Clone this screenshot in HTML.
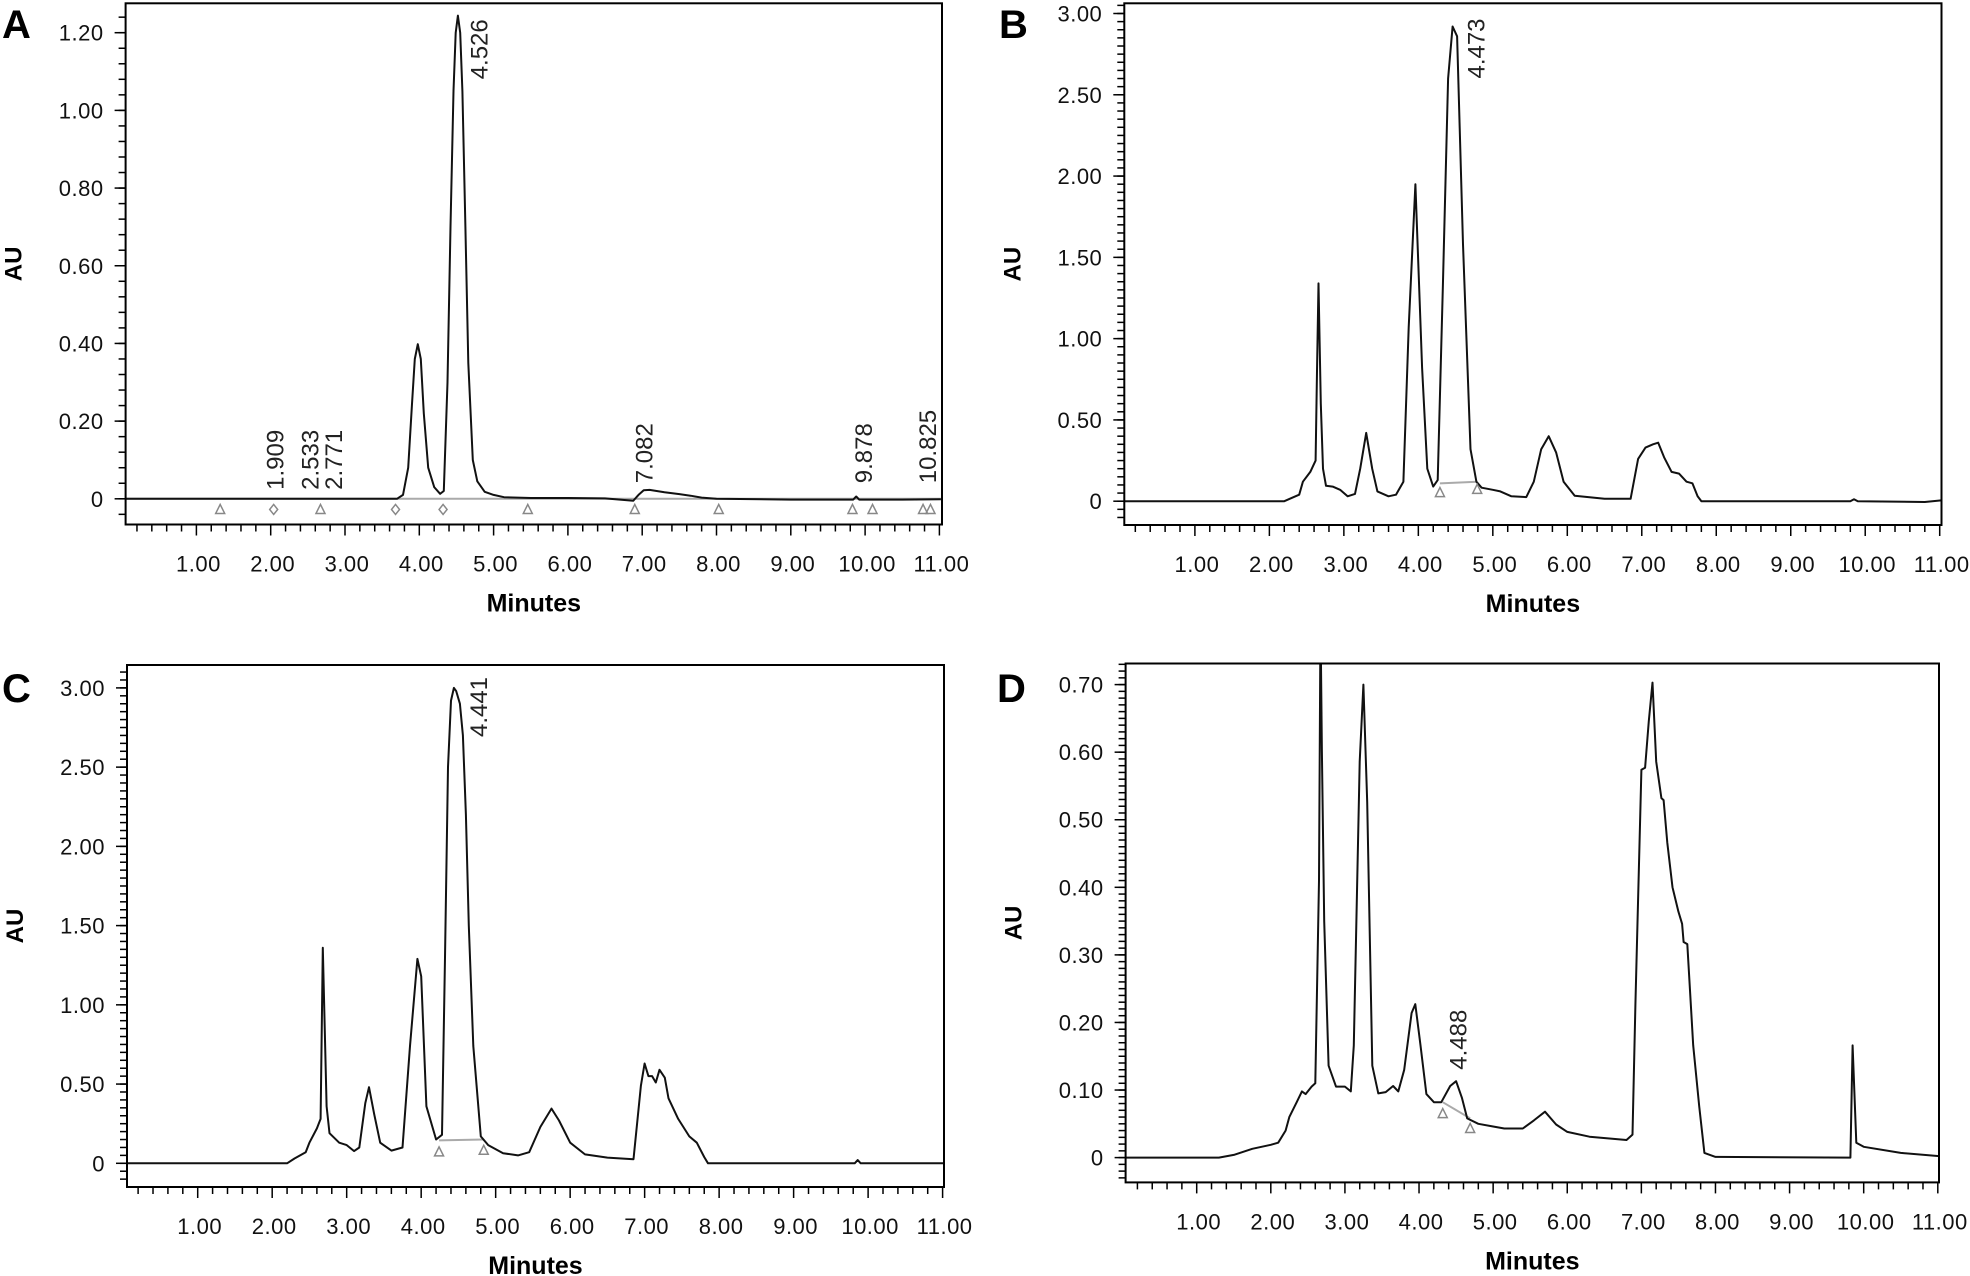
<!DOCTYPE html>
<html><head><meta charset="utf-8"><style>
html,body{margin:0;padding:0;background:#fff;}
svg{display:block;font-family:"Liberation Sans",sans-serif;}
</style></head><body>
<svg id="fig" width="1970" height="1276" viewBox="0 0 1970 1276" xmlns="http://www.w3.org/2000/svg"></svg>
<script>
// ---------- Data ----------
const aTimes = [0.05,3.7,3.78,3.85,3.9,3.94,3.98,4.02,4.06,4.12,4.2,4.28,4.33,4.38,4.42,4.46,4.49,4.52,4.55,4.58,4.62,4.66,4.72,4.78,4.88,5.0,5.14,5.5,6.0,6.5,6.88,6.95,7.02,7.1,7.3,7.5,7.65,7.8,8.0,9.0,9.84,9.88,9.92,10.5,11.02];
const aValues = [0,0,0.01,0.08,0.24,0.36,0.398,0.36,0.22,0.08,0.03,0.013,0.02,0.3,0.7,1.05,1.2,1.244,1.2,1.05,0.7,0.35,0.1,0.045,0.018,0.01,0.004,0.002,0.002,0.001,-0.005,0.01,0.022,0.023,0.017,0.012,0.008,0.003,0,-0.002,-0.002,0.006,-0.002,-0.002,-0.001];
const bTimes = [0.05,2.2,2.3,2.4,2.45,2.55,2.62,2.64,2.66,2.69,2.72,2.76,2.85,2.95,3.05,3.15,3.22,3.3,3.38,3.45,3.6,3.7,3.8,3.87,3.96,4.05,4.12,4.2,4.26,4.33,4.4,4.46,4.52,4.6,4.7,4.78,4.85,5.0,5.1,5.25,5.45,5.55,5.65,5.75,5.85,5.95,6.1,6.5,6.85,6.95,7.05,7.15,7.22,7.3,7.4,7.5,7.6,7.68,7.75,7.8,9.8,9.85,9.9,10.8,11.02];
const bValues = [0,0,0.02,0.04,0.12,0.18,0.25,0.8,1.34,0.6,0.2,0.095,0.09,0.07,0.03,0.045,0.2,0.42,0.2,0.06,0.03,0.04,0.12,1.07,1.95,0.82,0.2,0.09,0.13,1.33,2.6,2.92,2.86,1.58,0.32,0.12,0.083,0.07,0.06,0.03,0.025,0.12,0.32,0.4,0.3,0.12,0.033,0.015,0.015,0.26,0.33,0.35,0.36,0.27,0.18,0.17,0.12,0.11,0.03,0,0,0.012,0,-0.005,0.005];
const cTimes = [0.05,2.2,2.3,2.45,2.5,2.6,2.65,2.68,2.73,2.77,2.9,3.0,3.1,3.17,3.25,3.3,3.37,3.45,3.6,3.75,3.85,3.95,4.0,4.07,4.2,4.28,4.32,4.36,4.4,4.44,4.47,4.52,4.56,4.6,4.64,4.7,4.8,4.9,5.1,5.3,5.45,5.6,5.75,5.85,6.0,6.2,6.5,6.85,6.95,7.0,7.05,7.1,7.15,7.2,7.27,7.32,7.45,7.6,7.7,7.8,7.85,9.82,9.86,9.9,11.02];
const cValues = [0,0,0.03,0.07,0.13,0.22,0.28,1.36,0.36,0.19,0.13,0.115,0.077,0.1,0.38,0.48,0.31,0.13,0.08,0.1,0.74,1.29,1.18,0.36,0.15,0.18,1.3,2.5,2.92,3.0,2.98,2.9,2.7,2.2,1.5,0.74,0.17,0.115,0.064,0.05,0.07,0.23,0.345,0.27,0.13,0.056,0.036,0.026,0.49,0.63,0.55,0.55,0.51,0.59,0.54,0.41,0.28,0.17,0.13,0.04,0,0,0.02,0,0];
const dTimes = [0.05,1.3,1.5,1.75,2.0,2.1,2.2,2.25,2.35,2.42,2.47,2.55,2.6,2.65,2.67,2.69,2.72,2.78,2.88,3.0,3.08,3.12,3.2,3.25,3.3,3.37,3.45,3.55,3.65,3.72,3.8,3.9,3.95,4.02,4.1,4.2,4.3,4.42,4.5,4.58,4.65,4.8,5.0,5.15,5.4,5.55,5.7,5.85,6.0,6.3,6.8,6.88,6.92,7.0,7.05,7.1,7.15,7.2,7.27,7.3,7.35,7.42,7.5,7.55,7.57,7.62,7.7,7.78,7.85,8.0,9.82,9.85,9.9,10.0,10.5,11.02];
const dValues = [0,0,0.004,0.013,0.019,0.022,0.04,0.06,0.082,0.098,0.094,0.105,0.11,0.41,0.8,0.6,0.35,0.136,0.105,0.105,0.098,0.166,0.586,0.70,0.526,0.136,0.095,0.097,0.106,0.098,0.13,0.214,0.227,0.166,0.094,0.082,0.082,0.106,0.113,0.088,0.058,0.05,0.046,0.043,0.043,0.055,0.068,0.049,0.038,0.031,0.026,0.034,0.226,0.574,0.577,0.646,0.703,0.586,0.532,0.529,0.466,0.40,0.364,0.346,0.319,0.316,0.166,0.076,0.007,0.001,0,0.166,0.022,0.016,0.007,0.002];

const xTickLabels = ["1.00","2.00","3.00","4.00","5.00","6.00","7.00","8.00","9.00","10.00","11.00"];
const aYTicks = [0,0.2,0.4,0.6,0.8,1.0,1.2];
const bYTicks = [0,0.5,1.0,1.5,2.0,2.5,3.0];
const cYTicks = [0,0.5,1.0,1.5,2.0,2.5,3.0];
const dYTicks = [0,0.1,0.2,0.3,0.4,0.5,0.6,0.7];

const aPeakLabels = ["1.909","2.533","2.771","4.526","7.082","9.878","10.825"];
const aPeakLabelTimes = [2.07,2.54,2.86,4.82,7.04,9.99,10.85];
const aPeakLabelValues = [0.023,0.023,0.023,1.08,0.04,0.04,0.04];
const aMarkerTimes = [1.32,2.04,2.67,3.68,4.32,5.46,6.9,8.03,9.83,10.1,10.78,10.88];
const aMarkerTypes = ["t","d","t","d","d","t","t","t","t","t","t","t"];
const bPeakLabels = ["4.473"]; const bPeakLabelTimes=[4.79]; const bPeakLabelValues=[2.6];
const bMarkerTimes = [4.29,4.79]; const bMarkerValues=[0.09,0.11];
const cPeakLabels = ["4.441"]; const cPeakLabelTimes=[4.78]; const cPeakLabelValues=[2.69];
const cMarkerTimes = [4.24,4.84]; const cMarkerValues=[0.11,0.12];
const dPeakLabels = ["4.488"]; const dPeakLabelTimes=[4.54]; const dPeakLabelValues=[0.13];
const dMarkerTimes = [4.32,4.69]; const dMarkerValues=[0.074,0.052];

const NS="http://www.w3.org/2000/svg";
const svg=document.getElementById('fig');
function mk(tag,attrs,parent){const e=document.createElementNS(NS,tag);for(const k in attrs)e.setAttribute(k,attrs[k]);(parent||svg).appendChild(e);return e;}

function panel(id,letter,geo,times,values,yTicks,minorStep,peakLabels,plTimes,plValues,mTimes,mValues,mTypes,baseSeg){
  const g=mk('g',{});
  
  
  const xs=(geo.x11-geo.x1)/10;
  const X=t=>geo.x1+(t-1)*xs;
  const ys=(geo.y0-geo.yTop)/geo.topVal;
  const Y=v=>geo.y0-v*ys;
  const cid='clip-'+id;
  const cp=mk('clipPath',{id:cid},g);
  mk('rect',{x:geo.l,y:geo.t,width:geo.r-geo.l,height:geo.b-geo.t},cp);
  const lt=mk('text',{x:geo.lx,y:geo.ly,'font-size':40,'font-weight':'bold',fill:'#000'},g);
  lt.textContent=letter;
  
  
  const vMin=(geo.y0-geo.b)/ys, vMax=(geo.y0-geo.t)/ys;
  const nMin=Math.ceil(vMin/minorStep-1e-6), nMax=Math.floor(vMax/minorStep+1e-6);
  for(let n=nMin;n<=nMax;n++){
    const y=Y(n*minorStep);
    const tk=mk('line',{x1:geo.l-7,x2:geo.l,y1:y,y2:y,stroke:'#000','stroke-width':1.5},g);
    
    
  }
  yTicks.forEach(v=>{
    const y=Y(v);
    const tk=mk('line',{x1:geo.l-11,x2:geo.l,y1:y,y2:y,stroke:'#000','stroke-width':1.5},g);
    
    
    const tx=mk('text',{x:geo.l-22,y:y+8,'font-size':22,'text-anchor':'end',fill:'#111','letter-spacing':'0.5'},g);
    tx.textContent=v===0?'0':v.toFixed(2);
    
    
  });
  for(let k=1;k<=55;k++){
    const t=k*0.2; const x=X(t);
    if(x>geo.r+1)break;
    const major=(k%5===0);
    const tk=mk('line',{x1:x,x2:x,y1:geo.b,y2:geo.b+(major?11:7),stroke:'#000','stroke-width':1.5},g);
    
    
  }
  xTickLabels.forEach((s,i)=>{
    const tx=mk('text',{x:X(i+1)+2,y:geo.b+47,'font-size':22,'text-anchor':'middle',fill:'#111','letter-spacing':'0.5'},g);
    tx.textContent=s;
    
    
  });
  const xt=mk('text',{x:(geo.l+geo.r)/2,y:geo.b+87,'font-size':25,'font-weight':'bold','text-anchor':'middle',fill:'#000'},g);
  xt.textContent='Minutes';
  
  
  const ym=(geo.t+geo.b)/2;
  const yt=mk('text',{x:0,y:0,'font-size':24,'font-weight':'bold','text-anchor':'middle',fill:'#000',transform:`translate(${geo.l-104},${ym}) rotate(-90)`},g);
  yt.textContent='AU';
  
  
  const cg=mk('g',{'clip-path':`url(#${cid})`},g);
  if(baseSeg){
    const bl=mk('line',{x1:X(baseSeg[0]),y1:Y(baseSeg[1]),x2:X(baseSeg[2]),y2:Y(baseSeg[3]),stroke:'#aaa','stroke-width':2},cg);
    
    
  }
  const pts=times.map((t,i)=>X(t).toFixed(1)+','+Y(values[i]).toFixed(1)).join(' ');
  const pl=mk('polyline',{points:pts,fill:'none',stroke:'#111','stroke-width':2,'stroke-linejoin':'round'},cg);
  
  
  mTimes.forEach((t,i)=>{
    const x=X(t), y=Y(mValues[i])+6;
    const type=mTypes?mTypes[i]:'t';
    let m;
    if(type==='d') m=mk('polygon',{points:`${x},${y-5} ${x+4},${y} ${x},${y+5} ${x-4},${y}`,fill:'none',stroke:'#888','stroke-width':1.5},g);
    else m=mk('polygon',{points:`${x},${y-5} ${x+4.5},${y+4} ${x-4.5},${y+4}`,fill:'none',stroke:'#888','stroke-width':1.5},g);
    
    
  });
  peakLabels.forEach((s,i)=>{
    const x=X(plTimes[i]), y=Y(plValues[i]);
    const tx=mk('text',{x:0,y:0,'font-size':24,fill:'#222','dominant-baseline':'central',transform:`translate(${x},${y}) rotate(-90)`},g);
    tx.textContent=s;
    
    
  });
  const bx=mk('rect',{x:geo.l,y:geo.t,width:geo.r-geo.l,height:geo.b-geo.t,fill:'none',stroke:'#000','stroke-width':2},g);
  
  
}

panel('a','A',{l:125.6,r:942,t:3.3,b:524.5,y0:498.8,yTop:32.7,topVal:1.2,x1:196.4,x11:939.4,lx:2,ly:38},
  aTimes,aValues,aYTicks,0.04,aPeakLabels,aPeakLabelTimes,aPeakLabelValues,
  aMarkerTimes,aMarkerTimes.map(()=>-0.012),aMarkerTypes,[0.05,0,11.02,0]);
panel('b','B',{l:1124.3,r:1941.5,t:3.3,b:525,y0:501.2,yTop:13.5,topVal:3.0,x1:1194.9,x11:1939.7,lx:999,ly:38},
  bTimes,bValues,bYTicks,0.05,bPeakLabels,bPeakLabelTimes,bPeakLabelValues,
  bMarkerTimes,bMarkerValues,null,[4.29,0.11,4.79,0.12]);
panel('c','C',{l:127,r:944,t:665,b:1187,y0:1163.3,yTop:687.9,topVal:3.0,x1:197.7,x11:942.6,lx:2,ly:702},
  cTimes,cValues,cYTicks,0.05,cPeakLabels,cPeakLabelTimes,cPeakLabelValues,
  cMarkerTimes,cMarkerValues,null,[4.24,0.145,4.84,0.15]);
panel('d','D',{l:1125.6,r:1939,t:663.5,b:1182.4,y0:1157.6,yTop:684.6,topVal:0.7,x1:1196.7,x11:1937.8,lx:997,ly:702},
  dTimes,dValues,dYTicks,0.01,dPeakLabels,dPeakLabelTimes,dPeakLabelValues,
  dMarkerTimes,dMarkerValues,null,[4.32,0.082,4.69,0.058]);
</script>
</body></html>
